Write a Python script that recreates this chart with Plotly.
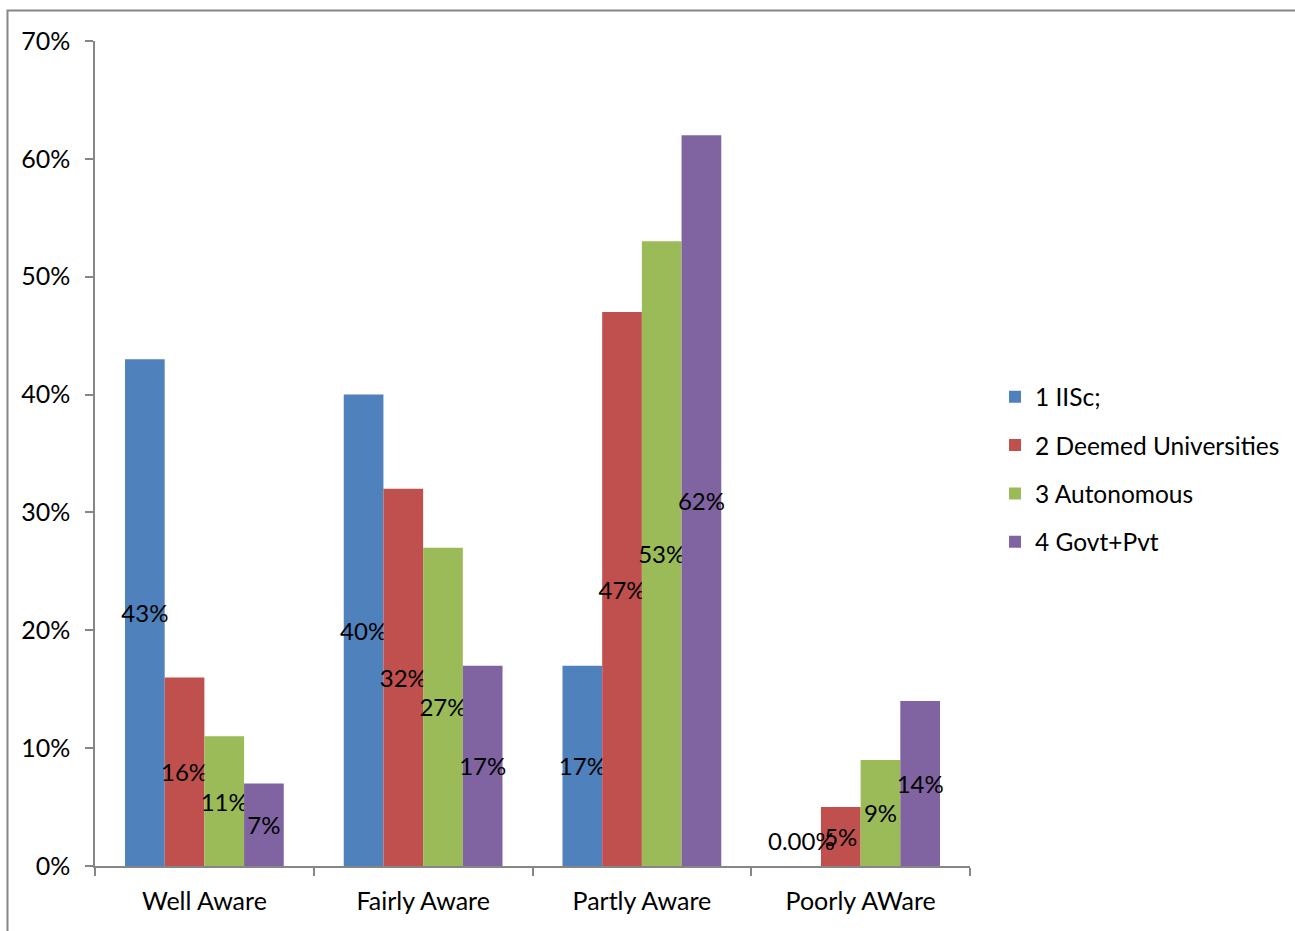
import plotly.graph_objects as go

categories = ["Well Aware", "Fairly Aware", "Partly Aware", "Poorly AWare"]
series_names = ["1 IISc;", "2 Deemed Universities", "3 Autonomous", "4 Govt+Pvt"]
iisc = [43, 40, 17, 0]
deemed = [16, 32, 47, 5]
autonomous = [11, 27, 53, 9]
govt_pvt = [7, 17, 62, 14]
iisc_labels = ["43%", "40%", "17%", "0.00%"]
colors = ["#4F81BD", "#C0504D", "#9BBB59", "#8064A2"]
y_ticks = [0, 10, 20, 30, 40, 50, 60, 70]
y_tick_labels = ["0%", "10%", "20%", "30%", "40%", "50%", "60%", "70%"]

FONT = "Lato"
AX = 25
LBL = 24
BARGAP = 0.2742
W, H = 1295, 931
ML, MR, MT, MB = 95, 325, 41, 65
all_values = [iisc, deemed, autonomous, govt_pvt]

fig = go.Figure()
zero_labels = []
for i, (name, vals, col) in enumerate(zip(series_names, all_values, colors)):
    texts = iisc_labels if i == 0 else [f"{v}%" for v in vals]
    bar_texts = [t if v > 0 else "" for t, v in zip(texts, vals)]
    for cat, t, v in zip(categories, texts, vals):
        if v == 0:
            zero_labels.append((i, cat, t))
    fig.add_trace(go.Bar(
        name=name, x=categories, y=vals, marker=dict(color=col, line=dict(width=0)),
        legendgroup=f"g{i}",
        text=bar_texts, textposition="inside", insidetextanchor="middle",
        textangle=0, constraintext="none", cliponaxis=False,
        textfont=dict(family=FONT, size=LBL, color="black"),
        insidetextfont=dict(family=FONT, size=LBL, color="black"),
        hoverinfo="skip",
    ))

# labels for zero-height bars, drawn on top (as in the reference)
group_px = (W - ML - MR) / len(categories)
bar_px = group_px * (1 - BARGAP) / len(series_names)
for i, cat, t in zero_labels:
    fig.add_annotation(x=cat, y=0, xref="x", yref="y", text=t, showarrow=False,
                       xshift=(i - (len(series_names) - 1) / 2) * bar_px,
                       yshift=26, yanchor="middle",
                       font=dict(family=FONT, size=LBL, color="black"))

fig.update_layout(
    width=W, height=H,
    margin=dict(l=ML, r=MR, t=MT, b=MB, autoexpand=False),
    barmode="group", bargap=BARGAP, bargroupgap=0,
    plot_bgcolor="white", paper_bgcolor="white",
    font=dict(family=FONT, size=AX, color="black"),
    showlegend=True,
    legend=dict(x=1.0286, y=0.596, xanchor="left", yanchor="top",
                font=dict(family=FONT, size=24.5, color="black"),
                traceorder="grouped", tracegroupgap=13.5, itemsizing="constant",
                bgcolor="rgba(0,0,0,0)"),
    xaxis=dict(showline=True, linecolor="#868686", linewidth=1.5,
               ticks="outside", tickson="boundaries", ticklen=8, tickcolor="#868686",
               tickwidth=1.5, showgrid=False, ticklabelstandoff=12,
               tickfont=dict(family=FONT, size=AX, color="black")),
    yaxis=dict(range=[0, 70], tickvals=y_ticks, ticktext=y_tick_labels,
               showline=True, linecolor="#868686", linewidth=1.5,
               ticks="outside", ticklen=8, tickcolor="#868686", tickwidth=1.5,
               showgrid=False, zeroline=False, ticklabelstandoff=10,
               tickfont=dict(family=FONT, size=AX, color="black")),
    shapes=[dict(type="rect", xref="paper", yref="paper",
                 x0=-0.1, x1=1.5, y0=-0.2, y1=1.037,
                 line=dict(color="#868686", width=2), fillcolor="rgba(0,0,0,0)",
                 layer="below")],
)

fig.write_html("out.html")
